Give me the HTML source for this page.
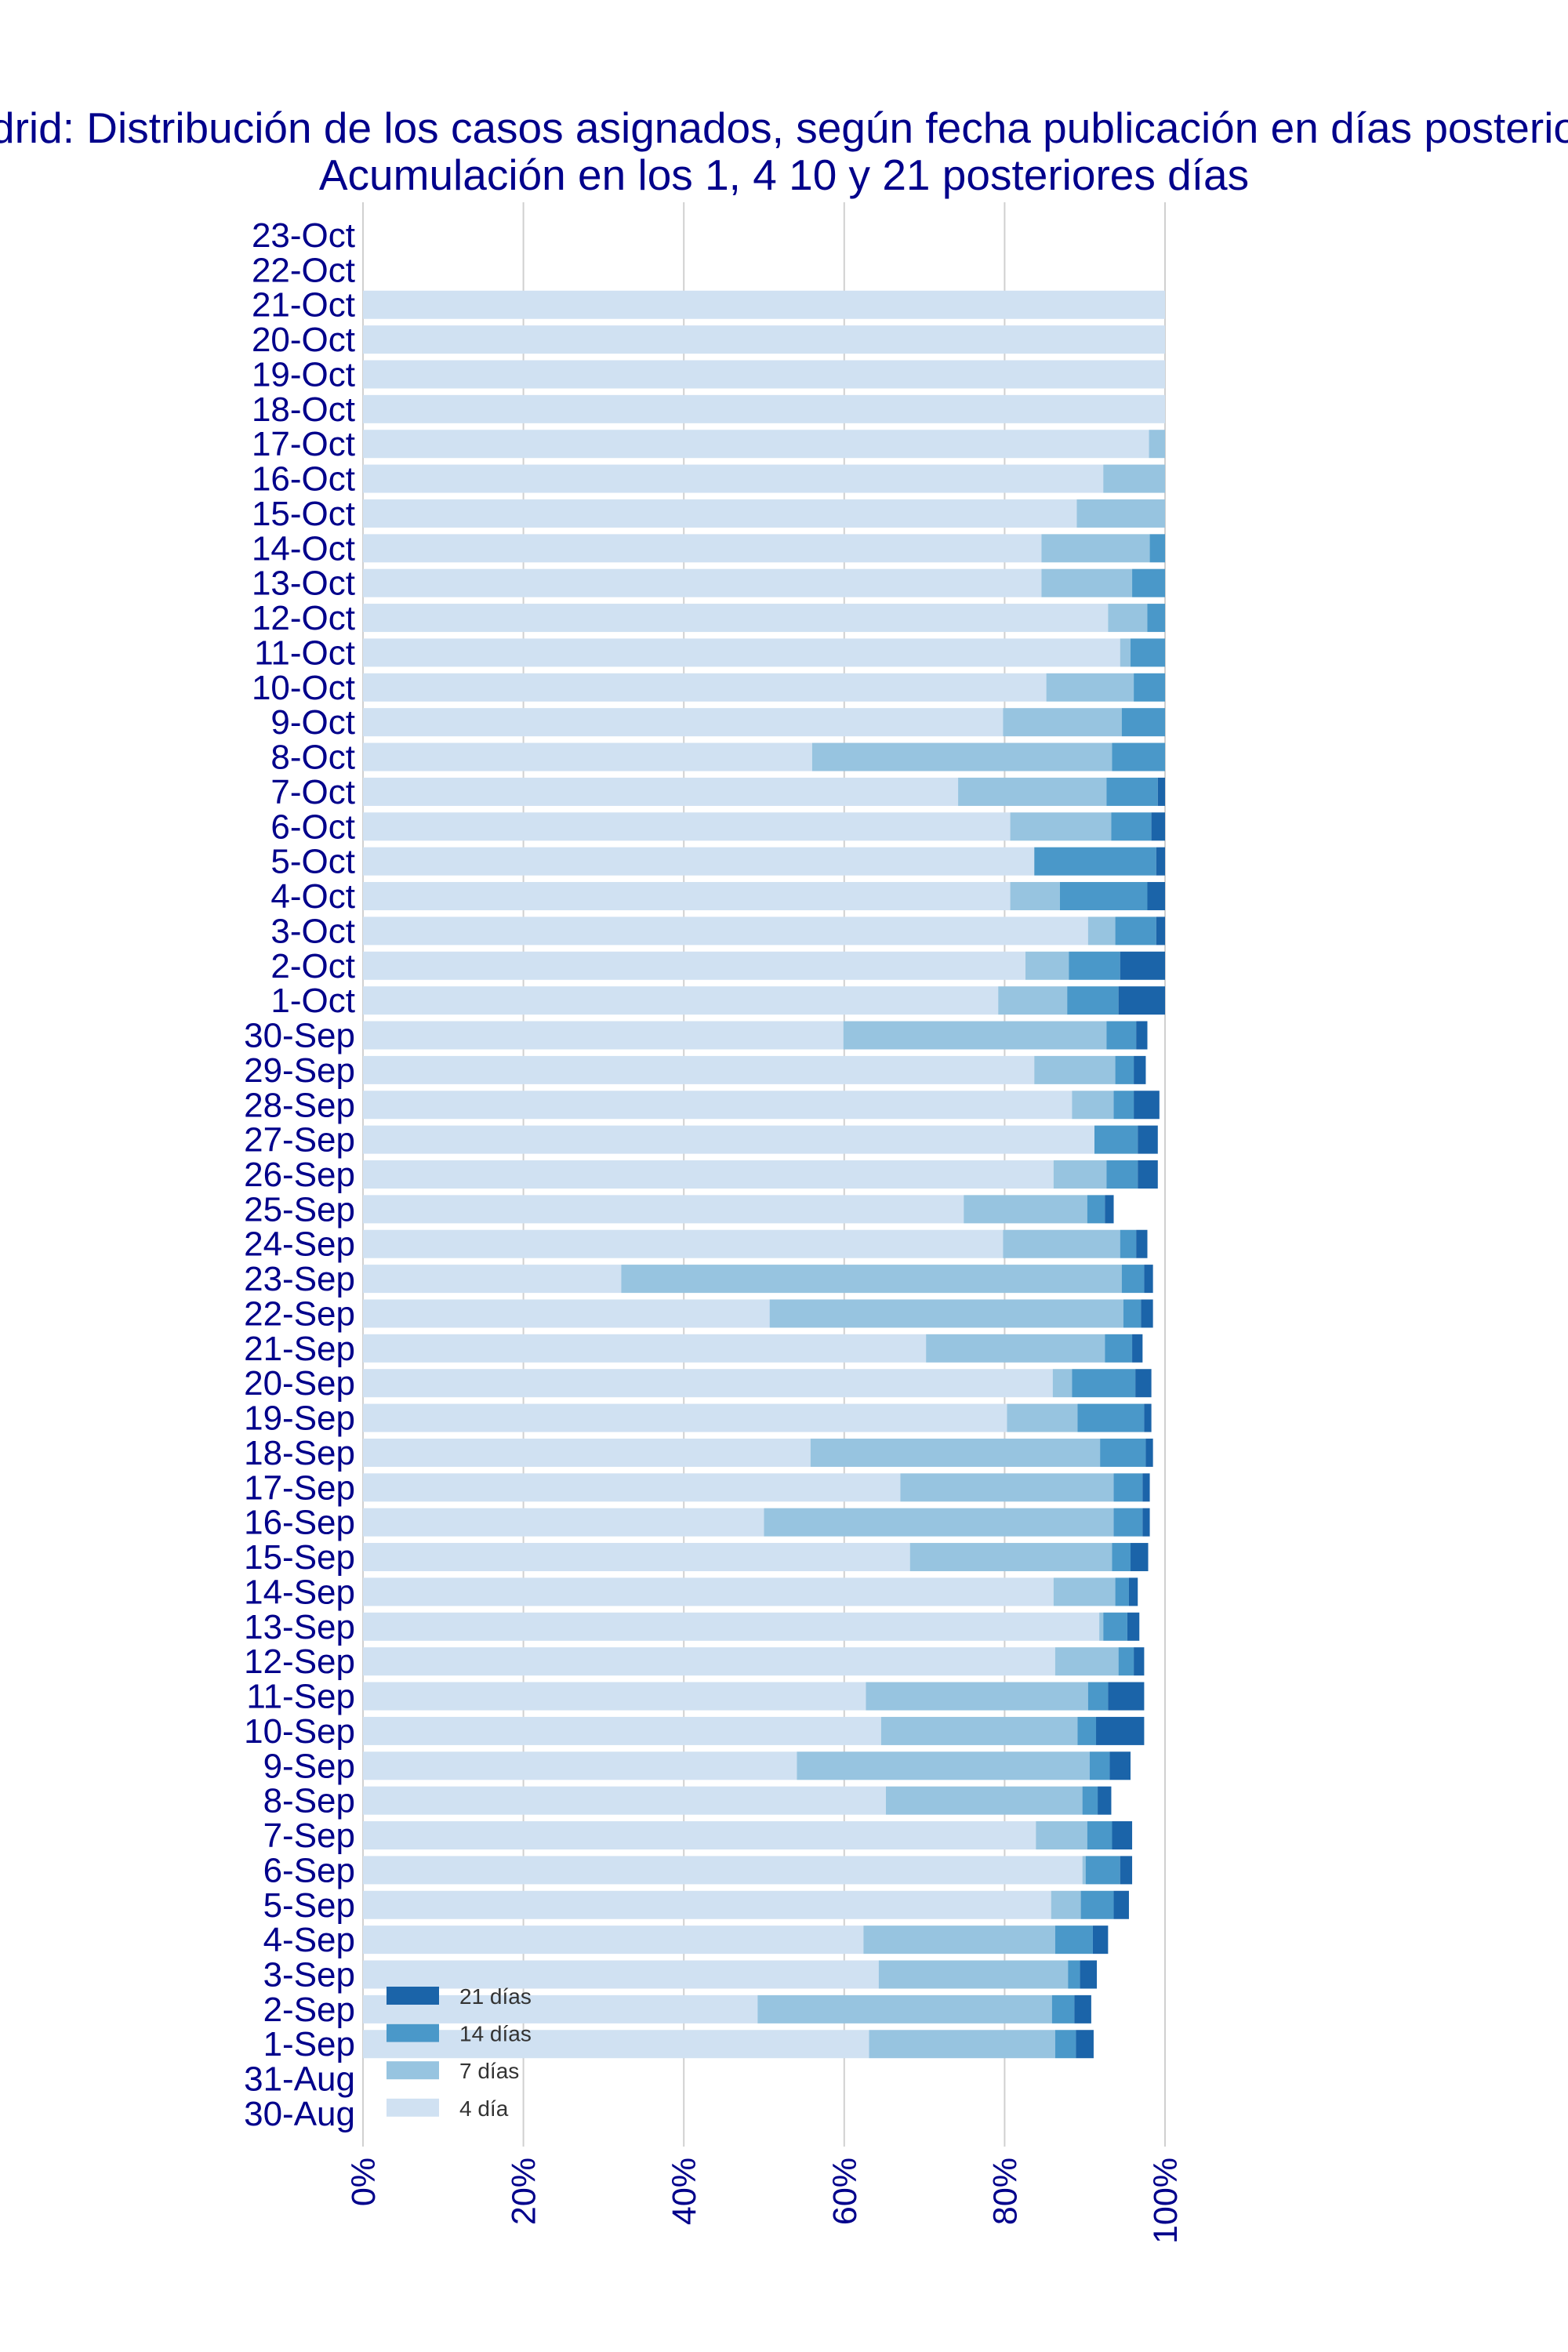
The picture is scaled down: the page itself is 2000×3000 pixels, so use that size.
<!DOCTYPE html>
<html><head><meta charset="utf-8"><style>
html,body{margin:0;padding:0;background:#fff;}
svg{display:block;font-family:"Liberation Sans",Arial,sans-serif;}
</style></head><body>
<svg id="chart" width="2000" height="3000" viewBox="0 0 2000 3000">
<text x="1000" y="182" text-anchor="middle" font-size="55" fill="#00008b">Madrid: Distribución de los casos asignados, según fecha publicación en días posteriores</text>
<text x="1000" y="242" text-anchor="middle" font-size="55" fill="#00008b">Acumulación en los 1, 4 10 y 21 posteriores días</text>
<g id="grid"></g><g id="bars"></g><g id="ylabels"></g><g id="xlabels"></g><g id="legend"></g>
</svg>
<script>
const categories = ["23-Oct","22-Oct","21-Oct","20-Oct","19-Oct","18-Oct","17-Oct","16-Oct","15-Oct","14-Oct","13-Oct","12-Oct","11-Oct","10-Oct","9-Oct","8-Oct","7-Oct","6-Oct","5-Oct","4-Oct","3-Oct","2-Oct","1-Oct","30-Sep","29-Sep","28-Sep","27-Sep","26-Sep","25-Sep","24-Sep","23-Sep","22-Sep","21-Sep","20-Sep","19-Sep","18-Sep","17-Sep","16-Sep","15-Sep","14-Sep","13-Sep","12-Sep","11-Sep","10-Sep","9-Sep","8-Sep","7-Sep","6-Sep","5-Sep","4-Sep","3-Sep","2-Sep","1-Sep","31-Aug","30-Aug"];
// cumulative percentages
const d4 = [0,0,100,100,100,100,98,92.3,89,84.6,84.6,92.9,94.4,85.2,79.8,56,74.2,80.7,83.7,80.7,90.4,82.6,79.2,59.9,83.7,88.4,91.2,86.1,74.9,79.8,32.2,50.7,70.2,86,80.3,55.8,67,50,68.2,86.1,91.8,86.3,62.7,64.6,54.1,65.2,83.9,89.7,85.8,62.4,64.3,49.2,63.1,0,0];
const d7 = [0,0,100,100,100,100,100,100,100,98.1,95.9,97.8,95.7,96.1,94.6,93.4,92.7,93.3,83.7,86.9,93.8,88,87.8,92.7,93.8,93.6,91.2,92.7,90.3,94.4,94.6,94.8,92.5,88.4,89.1,91.9,93.6,93.6,93.4,93.8,92.3,94.2,90.4,89.1,90.6,89.7,90.3,90.1,89.5,86.3,87.9,85.9,86.3,0,0];
const d14 = [0,0,100,100,100,100,100,100,100,100,100,100,100,100,100,100,99.1,98.3,98.9,97.8,98.9,94.4,94.2,96.4,96.1,96.1,96.6,96.6,92.5,96.4,97.4,97,95.9,96.3,97.4,97.6,97.2,97.2,95.7,95.5,95.3,96.1,92.9,91.4,93.1,91.6,93.4,94.4,93.6,91,89.4,88.7,88.9,0,0];
const d21 = [0,0,100,100,100,100,100,100,100,100,100,100,100,100,100,100,100,100,100,100,100,100,100,97.8,97.6,99.3,99.1,99.1,93.6,97.8,98.5,98.5,97.2,98.3,98.3,98.5,98.1,98.1,97.9,96.6,96.8,97.4,97.4,97.4,95.7,93.3,95.9,95.9,95.5,92.9,91.5,90.8,91.1,0,0];
const xTicks = [0,20,40,60,80,100];
const xTickLabels = ["0%","20%","40%","60%","80%","100%"];
const seriesNames = ["21 días","14 días","7 días","4 día"];

const NS="http://www.w3.org/2000/svg";
const X0=463,X1=1486,Y0=300,STEP=44.37,BH=36;
const xs=v=>X0+v/100*(X1-X0);
const ys=i=>Y0+i*STEP;
const colors={d4:"#d0e1f2",d7:"#97c4e0",d14:"#4a98c9",d21:"#1b64a9"};
function mk(tag,attrs,parent){const e=document.createElementNS(NS,tag);for(const k in attrs)e.setAttribute(k,attrs[k]);parent.appendChild(e);return e;}
const grid=document.getElementById('grid');
xTicks.forEach((t,i)=>{
  const l=mk('line',{x1:xs(t),x2:xs(t),y1:258,y2:2738,stroke:'#d0d0d0','stroke-width':2},grid);
  
  
  const tx=mk('text',{transform:`translate(${xs(t)+15},2752) rotate(-90)`,'text-anchor':'end','font-size':43,fill:'#00008b'},document.getElementById('xlabels'));
  tx.textContent=xTickLabels[i];
  
  
});
const bars=document.getElementById('bars'),yl=document.getElementById('ylabels');
categories.forEach((c,i)=>{
  const y=ys(i);
  const segs=[['d4',0,d4[i]],['d7',d4[i],d7[i]],['d14',d7[i],d14[i]],['d21',d14[i],d21[i]]];
  segs.forEach(s=>{
    if(s[2]-s[1]<=0)return;
    const r=mk('rect',{x:xs(s[1]),y:y-BH/2,width:xs(s[2])-xs(s[1]),height:BH,fill:colors[s[0]]},bars);
    
    
  });
  const t=mk('text',{x:453,y:y+15,'text-anchor':'end','font-size':44,fill:'#00008b'},yl);
  t.textContent=c;
  
  
});
const lg=document.getElementById('legend');
const lc=[colors.d21,colors.d14,colors.d7,colors.d4];
seriesNames.forEach((n,i)=>{
  const cy=2546+i*47.6;
  const g=mk('g',{},lg);
  
  
  mk('rect',{x:493,y:cy-12,width:67,height:23,fill:lc[i]},g);
  const t=mk('text',{x:586,y:cy+10,'font-size':28,fill:'#333'},g);
  t.textContent=n;
});
</script>
</body></html>
